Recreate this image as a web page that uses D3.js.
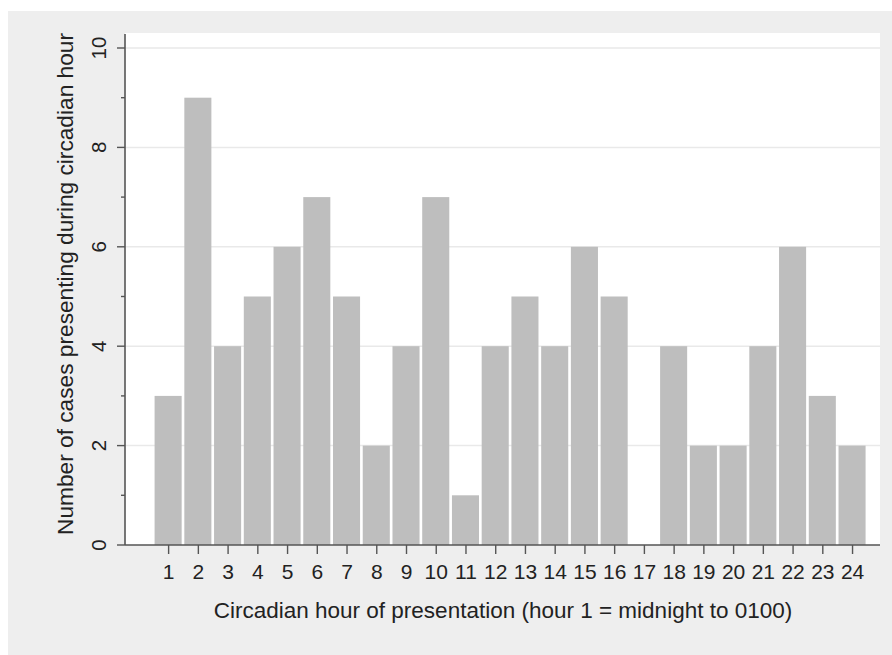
<!DOCTYPE html>
<html>
<head>
<meta charset="utf-8">
<script src="https://cdn.jsdelivr.net/npm/d3@7"></script>
<style>
html,body{margin:0;padding:0;background:#fff;}
svg{display:block;}
text{font-family:"Liberation Sans",Arial,Helvetica,sans-serif;fill:#222;}
</style>
</head>
<body>
<svg id="chart" width="892" height="655"></svg>
<script>
const hours = [1,2,3,4,5,6,7,8,9,10,11,12,13,14,15,16,17,18,19,20,21,22,23,24];
const cases = [3,9,4,5,6,7,5,2,4,7,1,4,5,4,6,5,0,4,2,2,4,6,3,2];
const yMajorTicks = [0,2,4,6,8,10];
const yMinorTicks = [1,3,5,7,9];
const xTitle = "Circadian hour of presentation (hour 1 = midnight to 0100)";
const yTitle = "Number of cases presenting during circadian hour";

const W = 892, H = 655;
const plot = {left:125, right:880, top:33, bottom:545};

const svg = d3.select("#chart");
svg.append("rect").attr("x",8).attr("y",11).attr("width",W-8).attr("height",H-11).attr("fill","#eeeeee");
svg.append("rect").attr("x",plot.left).attr("y",plot.top)
   .attr("width",plot.right-plot.left).attr("height",plot.bottom-plot.top).attr("fill","#ffffff");

const x = d3.scaleLinear().domain([-0.45, 24.94]).range([plot.left, plot.right]);
const y = d3.scaleLinear().domain([0, 10]).range([545, 48]);

// gridlines
svg.append("g").selectAll("line").data(yMajorTicks.filter(d=>d>0)).join("line")
  .attr("x1",plot.left).attr("x2",plot.right)
  .attr("y1",d=>y(d)).attr("y2",d=>y(d))
  .attr("stroke","#e9e9e9").attr("stroke-width",1.5);

// bars
const step = x(2)-x(1);
const bw = step*0.91;
svg.append("g").selectAll("rect").data(hours.map((h,i)=>({h, v:cases[i]}))).join("rect")
  .attr("x",d=>x(d.h)-bw/2)
  .attr("width",bw)
  .attr("y",d=>y(d.v))
  .attr("height",d=>y(0)-y(d.v))
  .attr("fill","#bebebe");

// y axis
const yAxis = d3.axisLeft(y).tickValues(yMajorTicks).tickSize(8).tickPadding(12).tickFormat(d3.format("d"));
const gy = svg.append("g").attr("transform",`translate(${plot.left},0)`).call(yAxis);
gy.select(".domain").attr("d",`M0,${plot.top+1}V${plot.bottom}`).attr("stroke","#555").attr("stroke-width",1.6);
gy.selectAll(".tick line").attr("stroke","#555").attr("stroke-width",1.4);
gy.selectAll(".tick text")
  .attr("font-size",20.5).attr("fill","#222")
  .attr("text-anchor","middle")
  .attr("transform",function(d){return `translate(-26,${y(d)}) rotate(-90)`;})
  .attr("x",0).attr("y",0).attr("dy","0.35em");
gy.selectAll(".tick").attr("transform",null);
gy.selectAll(".tick line").attr("y1",d=>y(d)).attr("y2",d=>y(d));
svg.append("g").selectAll("line").data(yMinorTicks).join("line")
  .attr("x1",plot.left-4).attr("x2",plot.left)
  .attr("y1",d=>y(d)).attr("y2",d=>y(d))
  .attr("stroke","#555").attr("stroke-width",1.4);

// x axis
const xAxis = d3.axisBottom(x).tickValues(hours).tickSize(9).tickPadding(6).tickFormat(d3.format("d"));
const gx = svg.append("g").attr("transform",`translate(0,${plot.bottom})`).call(xAxis);
gx.select(".domain").attr("d",`M${plot.left},0H${plot.right}`).attr("stroke","#555").attr("stroke-width",1.6);
gx.selectAll(".tick line").attr("stroke","#555").attr("stroke-width",1.4);
gx.selectAll(".tick text").attr("font-size",21).attr("fill","#222").attr("y",34).attr("dy",0);

// titles
svg.append("text").attr("x",503).attr("y",618).attr("text-anchor","middle")
  .attr("font-size",22.5).text(xTitle);
svg.append("text").attr("transform",`translate(73,284) rotate(-90)`).attr("text-anchor","middle")
  .attr("font-size",22.7).text(yTitle);
</script>
</body>
</html>
